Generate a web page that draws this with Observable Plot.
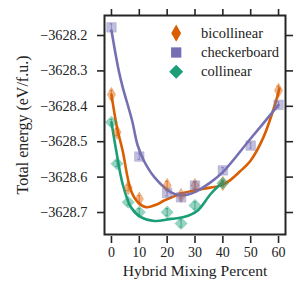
<!DOCTYPE html>
<html>
<head>
<meta charset="utf-8">
<script src="https://cdn.jsdelivr.net/npm/d3@7"></script>
<script src="https://cdn.jsdelivr.net/npm/@observablehq/plot@0.6"></script>
<style>
  html, body { margin: 0; padding: 0; background: #fff; }
  #chart { width: 300px; height: 300px; }
  #chart svg g[aria-label="y-axis tick label"] { font-size: 14.3px !important; }
  #chart svg g[aria-label="x-axis tick label"] { font-size: 14px !important; }
</style>
</head>
<body>
<div id="chart"></div>
<script>
// ---- data ----
const seriesNames = ["bicollinear", "checkerboard", "collinear"];
const seriesColors = ["#d95f02", "#7570b3", "#1b9e77"];
const seriesSymbols = ["diamond", "square", "diamond2"];
const xLabel = "Hybrid Mixing Percent";
const yLabel = "Total energy (eV/f.u.)";

const bicoX = [0, 2, 6, 10, 20, 25, 30, 40, 60];
const bicoY = [-3628.367, -3628.473, -3628.630, -3628.662, -3628.624, -3628.652, -3628.624, -3628.618, -3628.355];
const bicoErr = [0.012, 0.010, 0.008, 0.010, 0.012, 0.008, 0.010, 0.008, 0.012];

const checkX = [0, 10, 20, 25, 30, 40, 50, 60];
const checkY = [-3628.177, -3628.542, -3628.645, -3628.657, -3628.624, -3628.581, -3628.511, -3628.396];
const checkErr = [0.010, 0.008, 0.008, 0.008, 0.010, 0.008, 0.008, 0.008];

const colX = [0, 2, 6, 10, 20, 25, 30, 40];
const colY = [-3628.445, -3628.562, -3628.671, -3628.699, -3628.699, -3628.731, -3628.680, -3628.617];
const colErr = [0.008, 0.008, 0.008, 0.010, 0.010, 0.010, 0.010, 0.008];

// fitted curves
const bicoFitX = [0, 2, 4, 7, 9.5, 12.5, 16, 19, 25, 33, 39, 42, 46, 50, 54.6, 58.8, 60.3];
const bicoFitY = [-3628.367, -3628.46, -3628.525, -3628.638, -3628.671, -3628.685, -3628.678, -3628.666, -3628.647, -3628.633, -3628.624, -3628.612, -3628.585, -3628.553, -3628.487, -3628.393, -3628.35];

const checkFitX = [0, 2.6, 4, 7.4, 9.4, 11.6, 15.4, 21.4, 25, 29.7, 35.7, 40, 50, 60];
const checkFitY = [-3628.186, -3628.299, -3628.345, -3628.44, -3628.51, -3628.553, -3628.600, -3628.643, -3628.652, -3628.643, -3628.614, -3628.586, -3628.491, -3628.396];

const colFitX = [0, 1.7, 4, 7, 10.6, 15.4, 21.4, 26, 31, 35.7, 40];
const colFitY = [-3628.445, -3628.525, -3628.619, -3628.685, -3628.713, -3628.724, -3628.718, -3628.713, -3628.694, -3628.647, -3628.614];

const xTicks = [0, 10, 20, 30, 40, 50, 60];
const yTicks = [-3628.7, -3628.6, -3628.5, -3628.4, -3628.3, -3628.2];

// ---- tables ----
const pts = [];
const fits = [];
[[bicoX, bicoY, bicoErr], [checkX, checkY, checkErr], [colX, colY, colErr]].forEach(([xs, ys, es], i) => {
  xs.forEach((x, j) => pts.push({s: seriesNames[i], x, y: ys[j], e: es[j]}));
});
[[bicoFitX, bicoFitY], [checkFitX, checkFitY], [colFitX, colFitY]].forEach(([xs, ys], i) => {
  xs.forEach((x, j) => fits.push({s: seriesNames[i], x, y: ys[j]}));
});

const font = "Liberation Serif, DejaVu Serif, serif";
const axisColor = "#262626";
const noLabel = () => "";

const marks = [];
seriesNames.forEach((name, i) => {
  marks.push(Plot.line(fits.filter(d => d.s === name), {
    x: "x", y: "y", stroke: seriesColors[i], strokeWidth: 2.6, curve: "catmull-rom"
  }));
});
seriesNames.forEach((name, i) => {
  const d = pts.filter(p => p.s === name);
  const st = {stroke: seriesColors[i], strokeOpacity: 0.6, strokeWidth: 1.2};
  marks.push(Plot.ruleX(d, {x: "x", y1: p => p.y - p.e, y2: p => p.y + p.e, ...st}));
  marks.push(Plot.ruleY(d, {y: p => p.y + p.e, x1: p => p.x - 0.5, x2: p => p.x + 0.5, ...st}));
  marks.push(Plot.ruleY(d, {y: p => p.y - p.e, x1: p => p.x - 0.5, x2: p => p.x + 0.5, ...st}));
  marks.push(Plot.dot(d, {
    x: "x", y: "y", symbol: () => seriesSymbols[i],
    r: [4.4, 5.4, 5.5][i],
    fill: seriesColors[i], fillOpacity: 0.45, stroke: seriesColors[i], strokeOpacity: 0.25, strokeWidth: 1
  }));
});
const legendR = [5.2, 5.8, 6.3];
seriesNames.forEach((name, i) => {
  marks.push(Plot.dot([name], {
    frameAnchor: "top-left", dx: 71.7, dy: 17.7 + i * 19.3,
    symbol: () => seriesSymbols[i], r: legendR[i], fill: seriesColors[i], stroke: "none"
  }));
  marks.push(Plot.text([name], {
    text: d => d, frameAnchor: "top-left", dx: 96.5, dy: 17.7 + i * 19.3,
    textAnchor: "start", lineAnchor: "middle", fill: "#222", fontSize: 14.5, fontFamily: font
  }));
});
marks.push(Plot.frame({stroke: axisColor, strokeWidth: 2}));
marks.push(Plot.axisY({anchor: "left", ticks: yTicks, tickSize: 7, tickPadding: 10,
  tickFormat: d3.format(".1f"), stroke: axisColor, strokeWidth: 1.6, fill: "#222", label: null}));
marks.push(Plot.axisY({anchor: "right", ticks: yTicks, tickSize: 7, tickFormat: noLabel,
  stroke: axisColor, strokeWidth: 1.6, label: null}));
marks.push(Plot.axisX({anchor: "top", ticks: xTicks, tickSize: 7, tickFormat: noLabel,
  stroke: axisColor, strokeWidth: 1.6, label: null}));
marks.push(Plot.axisX({anchor: "bottom", ticks: xTicks, tickSize: 7, tickPadding: 4, dy: 2,
  stroke: axisColor, strokeWidth: 1.6, fill: "#222", label: null}));
// axis titles
marks.push(Plot.text([xLabel], {text: d => d, frameAnchor: "bottom", dy: 36,
  lineAnchor: "middle", textAnchor: "middle", fill: "#222", fontSize: 15.6, fontFamily: font}));
marks.push(Plot.text([yLabel], {text: d => d, frameAnchor: "left", dx: -82, rotate: -90,
  lineAnchor: "middle", textAnchor: "middle", fill: "#222", fontSize: 16, fontFamily: font}));

const chart = Plot.plot({
  width: 300, height: 300,
  marginLeft: 104, marginRight: 15, marginTop: 15, marginBottom: 66,
  style: {fontFamily: font, background: "#fff", color: "#222"},
  x: {domain: [-2.5, 62.5]},
  y: {domain: [-3628.7621, -3628.1435]},
  marks
});
document.getElementById("chart").appendChild(chart);
</script>
</body>
</html>
